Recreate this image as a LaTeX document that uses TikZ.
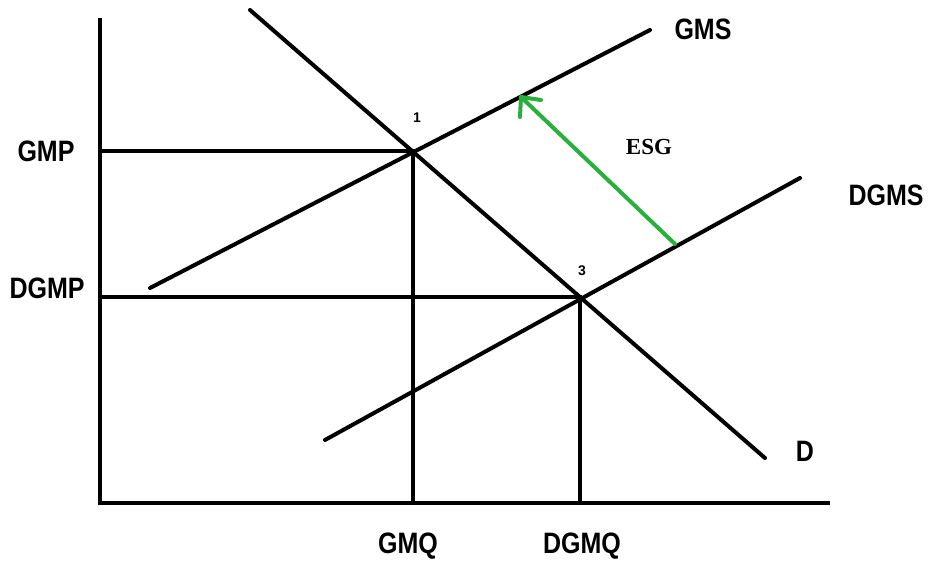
\documentclass[tikz,border=0pt]{standalone}
\usepackage{fontspec}
\usetikzlibrary{calc}
\setmainfont{Liberation Serif}
\newfontfamily\lblfont{Liberation Sans}
\newcommand{\tallbox}[1]{\scalebox{1}[1.18]{#1}}
\begin{document}
\begin{tikzpicture}[x=1pt,y=-1pt,
  ln/.style={line width=4pt,line cap=round},
  lbl/.style={font=\lblfont\bfseries\fontsize{25}{25}\selectfont,inner sep=0pt},
  pt/.style={font=\lblfont\bfseries\fontsize{14}{14}\selectfont,inner sep=0pt}]
\definecolor{esggreen}{RGB}{40,175,60}
\useasboundingbox (0,0) rectangle (930,563);
% axes
\coordinate (ytop) at (100,18);
\coordinate (org) at (100,503);
\coordinate (xend) at (830,503);
\draw[line width=4pt] (ytop) -- (org) -- (xend);
% key points
\coordinate (p1) at (413,151);
\coordinate (p3) at (580,297);
\coordinate (gmpax) at (100,151);
\coordinate (dgmpax) at (100,297);
\coordinate (gmqax) at (413,503);
\coordinate (dgmqax) at (580,503);
\draw[line width=4pt] (gmpax) -- (p1) -- (gmqax);
\draw[line width=4pt] (dgmpax) -- (p3) -- (dgmqax);
% demand
\coordinate (d0) at (250,10);
\coordinate (d1) at (765,458);
\draw[ln] (d0) -- (d1);
% supply curves
\coordinate (s0) at (150,288);
\coordinate (s1) at (650,30);
\draw[ln] (s0) -- (s1);
\coordinate (t0) at (325,440);
\coordinate (t1) at (800,178);
\draw[ln] (t0) -- (t1);
% ESG arrow
\coordinate (ga) at (675,244);
\coordinate (gb) at (521,97);
\draw[line width=4pt,esggreen,line cap=round] (ga) -- (gb);
\draw[line width=4pt,esggreen,line cap=round,line join=round]
  ($(gb)+(-1,20)$) -- (gb) -- ($(gb)+(20,3)$);
% labels
\node[lbl] (lgms) at (703,29) {\tallbox{GMS}};
\node[lbl] (ldgms) at (886,195) {\tallbox{DGMS}};
\node[lbl] (ld) at (805,451) {\tallbox{D}};
\node[lbl] (lgmp) at (46,151) {\tallbox{GMP}};
\node[lbl] (ldgmp) at (47,288) {\tallbox{DGMP}};
\node[lbl] (lgmq) at (408,546) {\tallbox{GMQ}};
\node[lbl] (ldgmq) at (582,546) {\tallbox{DGMQ}};
\node[font=\bfseries\fontsize{23}{23}\selectfont,inner sep=0pt] (lesg) at (649,147) {ESG};
\node[pt] (l1) at (417,118) {1};
\node[pt] (l3) at (582,271) {3};
\end{tikzpicture}
\end{document}
